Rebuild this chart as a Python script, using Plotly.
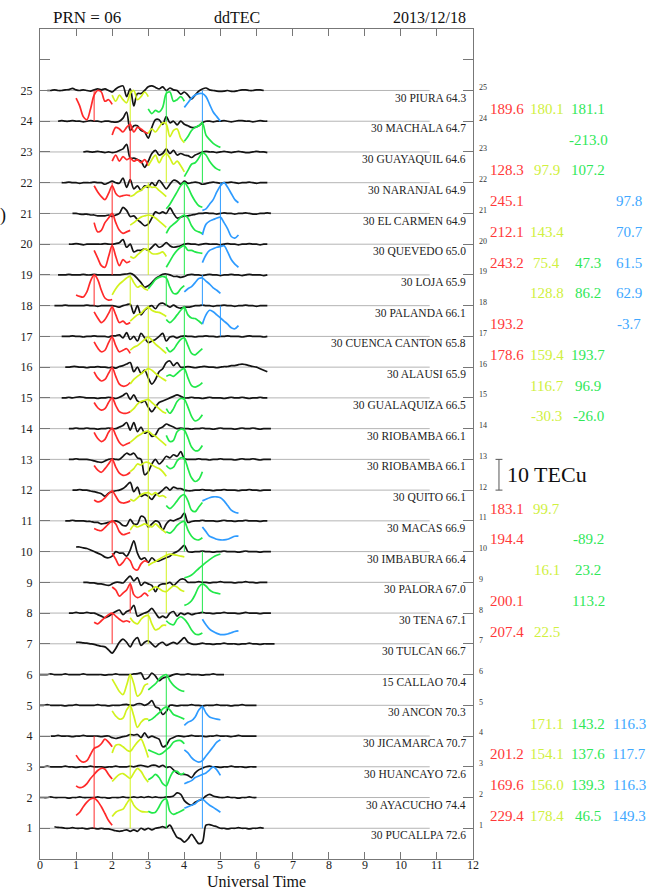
import plotly.graph_objects as go

# ---------------------------------------------------------------------------
# Stations, top (row 25) to bottom (row 1)
# ---------------------------------------------------------------------------
rows = list(range(25, 0, -1))
station_names = ["PIURA", "MACHALA", "GUAYAQUIL", "NARANJAL", "EL CARMEN",
                 "QUEVEDO", "LOJA", "PALANDA", "CUENCA CANTON", "ALAUSI",
                 "GUALAQUIZA", "RIOBAMBA", "RIOBAMBA", "QUITO", "MACAS",
                 "IMBABURA", "PALORA", "TENA", "TULCAN", "CALLAO", "ANCON",
                 "JICAMARCA", "HUANCAYO", "AYACUCHO", "PUCALLPA"]
station_rate = [30, 30, 30, 30, 30, 30, 30, 30, 30, 30, 30, 30, 30, 30, 30,
                30, 30, 30, 30, 15, 30, 30, 30, 30, 30]
station_elev = [64.3, 64.7, 64.6, 64.9, 64.9, 65.0, 65.9, 66.1, 65.8, 65.9,
                66.5, 66.1, 66.1, 66.1, 66.9, 66.4, 67.0, 67.1, 66.7, 70.4,
                70.3, 70.7, 72.6, 74.4, 72.6]

# ---------------------------------------------------------------------------
# ddTEC series (units of 10 TECu), sampled every 0.1 h from the start time
# ---------------------------------------------------------------------------
STEP = 0.1
trace_start = [0.2, 0.5, 1.2, 0.6, 0.9, 0.8, 0.5, 0.4, 0.6, 0.7, 0.6, 0.8, 0.8,
               0.9, 0.7, 1.0, 1.2, 0.8, 1.0, 0.0, 0.0, 0.3, 0.0, 0.0, 0.4]

ddtec_piura = [0, 0, 0.02, 0, 0, 0.02, 0.03, 0.07, 0.02, 0, 0.02, 0, -0.02, 0.02,
               0.05, 0.02, 0.05, 0, -0.05, 0.05, 0.12, 0.15, -0.2, 0.05, -0.5, -0.1,
               -0.1, 0, 0.12, 0.15, 0.1, 0.05, 0.12, 0, 0.08, 0.02, 0, -0.12, -0.05,
               -0.15, -0.28, -0.15, -0.02, 0.05, 0.08, 0.02, 0, -0.02, -0.03, -0.02,
               0, -0.03, -0.03, 0, 0.02, 0.02, 0, 0, 0.02, 0.02, 0]
ddtec_machala = [0, 0.02, 0, 0, 0.02, 0, 0, -0.02, 0, 0.02, 0, 0, -0.02, 0, 0,
                 -0.02, -0.03, 0, 0.1, 0.3, -0.3, -0.15, -0.15, -0.3, -0.35, -0.55,
                 -0.2, 0.05, 0.05, -0.1, 0.15, -0.05, 0, -0.12, 0, -0.1, -0.15, -0.2,
                 -0.2, -0.15, -0.05, 0, 0, -0.02, 0, 0, 0.02, 0, -0.02, 0, 0.02, 0.02,
                 0, 0, -0.02, 0, 0.02, 0, 0]
ddtec_guayaquil = [0, 0.02, 0, 0, 0.02, 0, -0.02, 0, -0.02, 0, 0.05, 0.1, 0.25,
                   -0.2, -0.2, -0.25, -0.3, -0.5, -0.3, -0.05, 0.05, -0.1, -0.05,
                   0.1, -0.05, 0.05, -0.1, -0.05, -0.1, -0.12, -0.18, -0.1, -0.05, 0,
                   0.02, 0, 0, -0.02, 0, 0.02, 0, -0.02, 0, 0.02, 0, -0.02, -0.02, 0,
                   0.02, 0, 0, -0.02]
ddtec_naranjal = [0, 0, 0.02, 0, 0, -0.02, 0, 0, 0, 0.02, 0, 0, -0.05, 0, 0.05, 0,
                  -0.02, 0.15, -0.15, 0.1, -0.2, -0.1, -0.25, -0.1, -0.15, 0, -0.1,
                  0.08, -0.05, -0.2, -0.05, 0.08, 0.05, -0.05, 0.05, -0.02, 0, 0.02, 0,
                  -0.05, -0.03, 0, 0.02, 0, -0.02, 0, 0, 0.02, 0, -0.02, 0, 0, 0.02, 0,
                  -0.02, 0, 0, 0]
ddtec_el_carmen = [0, 0, -0.02, -0.03, -0.02, -0.05, -0.05, -0.08, -0.08, -0.08,
                   -0.05, -0.1, -0.05, 0, 0.2, 0.1, -0.1, -0.08, -0.2, -0.3, -0.4,
                   -0.35, -0.15, 0.05, 0, 0.05, 0, 0.18, 0, -0.15, -0.12, -0.08, -0.08,
                   -0.05, -0.03, 0, 0, 0.02, 0, 0, -0.02, 0, 0.02, 0, 0, -0.02, 0, 0,
                   0.02, 0, -0.02, -0.02, 0, 0, 0.02, 0]
ddtec_quevedo = [0, 0, 0.02, 0, -0.02, 0, 0, 0, 0, 0, 0.02, 0, 0, 0.02, 0.05, 0.15,
                 -0.1, 0, -0.25, -0.2, -0.2, -0.15, -0.2, -0.1, 0, -0.1, -0.05, 0.05,
                 -0.05, -0.1, -0.08, -0.05, 0, 0.02, 0, 0, -0.02, 0, 0.02, 0, 0, 0,
                 -0.02, 0, 0.02, 0, 0, -0.02, 0, 0, 0.02, 0, 0, -0.02, 0, 0]
ddtec_loja = [0, 0, 0, 0.02, 0, 0, 0, 0.02, 0, 0, 0.02, 0, 0, 0, 0, 0, 0, 0, 0.02,
              0.03, 0.05, 0, -0.12, -0.25, -0.4, -0.35, -0.25, -0.12, -0.05, 0.02,
              0.03, 0, -0.05, -0.05, -0.08, -0.05, 0, 0.02, 0, 0, -0.02, 0, 0.02, 0,
              0, -0.02, 0, 0, 0.02, 0, 0, -0.02, 0, 0.02, 0, 0, 0, -0.02, 0]
ddtec_palanda = [0, 0, 0, 0.02, 0, 0, 0, 0, 0, 0.02, 0, 0, -0.02, 0, 0, 0, 0, -0.02,
                 -0.05, 0, 0.03, 0.05, -0.25, 0, -0.3, -0.15, -0.05, 0, -0.1, 0.05,
                 0.08, 0.02, -0.05, 0.02, -0.05, -0.08, -0.05, -0.05, -0.03, 0, 0,
                 0.02, 0, 0, -0.02, 0, 0, 0.02, 0, 0, -0.02, 0, 0, 0.02, 0, 0, -0.02,
                 0, 0, 0]
ddtec_cuenca = [0, 0, 0, 0.02, 0, 0, -0.02, 0, 0, 0.02, 0, 0, 0, -0.02, 0.02, 0.02,
                0.05, -0.05, 0.12, -0.1, 0, -0.15, 0.1, -0.05, -0.2, -0.15, -0.1, 0,
                0.1, -0.15, -0.02, 0, -0.05, 0, 0.02, 0, 0, -0.02, 0, 0, 0.02, 0, 0,
                -0.02, 0, 0, 0.02, 0, 0, 0, -0.02, 0, 0.02, 0, 0, 0, -0.02, 0]
ddtec_alausi = [0, 0, 0.02, 0.02, 0, 0, -0.02, 0, 0, 0.02, 0, 0, -0.02, 0, -0.03,
                0.02, 0.05, 0.1, 0.15, -0.15, 0, -0.2, -0.1, -0.35, -0.55, -0.4,
                -0.15, -0.05, 0.15, 0.2, 0.05, 0.15, 0, 0, 0.02, 0, -0.02, 0, 0.02,
                0.02, 0, 0, -0.02, 0, 0.02, 0.02, 0.05, 0.05, 0.08, 0.1, 0.08, 0.05,
                0.02, 0, -0.05, -0.1, -0.15]
ddtec_gualaquiza = [0, 0, 0.02, 0, 0.02, 0.03, 0.02, 0, 0, 0, -0.02, 0, 0, 0.02, 0,
                    -0.02, 0.02, 0.08, 0.15, -0.05, 0.1, -0.1, -0.15, -0.1, -0.3,
                    -0.45, -0.3, -0.15, -0.1, -0.05, 0, 0.05, 0.1, 0.05, 0, 0, 0.02, 0,
                    0, -0.02, 0, 0.02, 0, 0, 0, -0.02, 0, 0.02, 0, 0, 0.02, 0, -0.02, 0,
                    0, 0.02, 0, 0]
ddtec_riobamba_a = [0, 0, 0.02, 0, 0, 0.02, 0, 0, -0.02, 0, 0, 0.02, 0, 0, 0.05,
                    0.1, 0.2, -0.05, 0.2, -0.1, 0.05, -0.15, -0.1, -0.25, -0.2, 0,
                    0.05, 0.15, 0.1, 0.05, 0, 0.02, 0, 0, -0.02, 0, 0, 0.02, 0, 0,
                    -0.02, 0, 0.02, 0, 0, 0, -0.02, 0, 0.02, 0, 0, 0.02, 0, -0.02, 0,
                    0, 0]
ddtec_riobamba_b = [0, 0, 0.02, 0, 0, 0, -0.02, -0.05, -0.08, -0.1, -0.05, 0, 0.02,
                    0, 0, 0.1, 0.2, 0.15, 0.2, 0.05, 0, -0.5, -0.4, -0.15, 0, -0.15,
                    -0.05, 0.1, 0.05, 0.15, 0.1, 0.25, 0.02, 0, 0, 0, 0.02, 0, 0,
                    -0.02, 0, 0, 0.02, 0, 0, 0, -0.02, 0, 0.02, 0, 0, 0.02, 0, -0.02,
                    0, 0, 0]
ddtec_quito = [0, 0, 0.02, 0, 0, -0.03, -0.05, -0.08, -0.12, -0.2, -0.1, -0.05,
               -0.02, 0, 0.05, 0.15, 0.25, -0.05, 0.1, -0.2, -0.15, -0.2, -0.3, -0.15,
               -0.1, 0, 0.1, 0, 0.1, 0.05, 0.05, 0, -0.02, -0.02, 0, 0, 0.02, 0, 0,
               -0.02, 0, 0, 0.02, 0, 0, 0, -0.02, 0, 0, 0.02, 0, 0, -0.02, 0, 0, 0]
ddtec_macas = [0, 0, 0.02, 0, 0, 0, -0.02, -0.02, -0.05, -0.05, -0.1, -0.08, -0.05,
               -0.02, 0, -0.05, -0.15, -0.15, 0.05, -0.1, -0.1, 0.15, 0.1, -0.2, -0.1,
               0, -0.05, -0.3, -0.1, 0.02, 0, 0.05, 0.1, 0.25, -0.05, -0.02, 0, 0,
               0.02, 0, 0, 0, -0.02, 0, 0.02, 0, 0, -0.02, 0, 0, 0.02, 0, 0, 0, -0.02,
               0, 0]
ddtec_imbabura = [0.15, 0.15, 0.12, 0.1, 0.05, 0, -0.05, -0.1, -0.18, -0.2, -0.15,
                  0, -0.05, -0.05, -0.15, 0.05, 0.35, -0.05, -0.25, -0.2, -0.35, -0.2,
                  -0.3, -0.3, -0.25, -0.2, -0.15, -0.05, 0, 0.1, 0.2, 0, -0.02, 0, 0,
                  0.02, 0, 0, -0.02, 0, 0, 0.02, 0, 0, 0, -0.02, 0, 0.02, 0, 0, 0,
                  -0.02, 0, 0, 0]
ddtec_palora = [0, 0, -0.02, -0.02, -0.05, -0.05, -0.08, -0.1, -0.05, 0, 0, -0.02,
                0.1, 0.2, 0.05, 0.15, -0.1, 0, -0.05, -0.1, -0.3, -0.1, -0.05, -0.05,
                0, -0.1, 0, 0.1, 0.1, 0, 0, 0, 0.02, 0, 0, -0.02, 0, 0, 0.02, 0, 0, 0,
                -0.02, 0, 0, 0.02, 0, 0, -0.02, 0, 0, 0]
ddtec_tena = [0, 0, 0.02, 0, 0, 0.02, 0, 0, -0.05, -0.1, -0.15, -0.1, -0.02, 0.05,
              0.1, -0.05, 0.05, 0.1, 0.25, -0.1, -0.05, 0, 0.05, 0.15, 0, -0.15, -0.1,
              -0.15, 0, 0.05, -0.1, 0, -0.05, 0, -0.05, -0.02, 0, 0.02, 0, 0, -0.02,
              0, 0, 0.02, 0, 0, 0, -0.02, 0, 0.02, 0, 0, 0, -0.02, 0, 0, 0]
ddtec_tulcan = [0.05, 0.05, 0.03, 0.02, 0, -0.02, -0.05, -0.08, -0.1, -0.2, -0.3,
                -0.15, 0.05, 0.15, 0.05, -0.1, 0.1, 0.2, -0.05, 0.05, 0.1, 0, -0.1, 0,
                0.05, -0.05, 0, 0.05, 0, 0.1, 0.2, 0.05, 0, -0.02, 0, 0.02, 0, 0,
                -0.02, 0, 0, 0.02, 0, 0, 0, -0.02, 0, 0, 0.02, 0, 0, -0.02, 0, 0, 0, 0]
ddtec_callao = [0, 0, 0, 0.02, 0, 0, 0, 0.02, 0, 0, 0, 0, 0.02, 0, 0, 0, 0, 0, -0.02,
                0, 0, 0.02, 0, 0, 0, 0, 0.02, 0.03, 0.05, -0.15, -0.1, 0.05, -0.05,
                -0.2, -0.12, -0.08, -0.05, 0, 0.02, 0, 0, 0.02, 0, 0, 0, -0.02, 0, 0,
                0.02, 0, 0, 0]
ddtec_ancon = [0, 0, 0.02, 0, 0, 0, 0, -0.02, 0, 0, 0.02, 0, 0, 0, 0, 0, 0.02, 0, 0,
               -0.02, 0, 0, 0, 0.02, 0.03, 0, 0, 0.05, 0.05, 0, 0.05, 0.15, -0.05,
               -0.1, -0.3, -0.2, 0, 0, -0.02, 0, 0, 0, 0.02, 0, 0, -0.02, 0, 0, 0,
               0.02, 0, 0, 0, -0.02, 0, 0, 0.02, 0, 0, 0, 0]
ddtec_jicamarca = [0, 0, 0.02, 0, 0, 0, -0.02, 0, 0, 0.02, 0, 0, 0, 0, -0.02, 0, 0,
                   -0.05, -0.08, -0.05, -0.02, 0, 0.05, 0.03, 0.05, -0.05, 0.1, -0.05,
                   0, -0.05, -0.1, -0.35, -0.3, -0.1, -0.05, 0, 0, -0.02, 0, 0.02, 0,
                   0, 0, -0.02, 0, 0, 0.02, 0, 0, 0, -0.02, 0, 0.02, 0, 0, 0, 0, 0]
ddtec_huancayo = [0, 0, 0.02, 0, 0, 0, 0, 0.02, 0, 0, -0.02, 0, 0, 0, 0.02, 0, 0, 0,
                  -0.02, 0, 0, 0.02, 0, 0, 0, 0.02, 0, 0.03, 0.05, 0.02, 0, 0.05,
                  0.05, 0, 0.05, -0.02, 0, -0.1, -0.2, -0.25, -0.25, -0.28, -0.35,
                  -0.2, -0.1, -0.05, 0, 0.02, 0, 0, -0.02, 0, 0, 0.02, 0, 0, 0, -0.02,
                  0, 0, 0]
ddtec_ayacucho = [0, 0, 0, 0.02, 0, 0, 0, 0, -0.02, 0, 0, 0.02, 0, 0, 0, 0, 0.02, 0,
                  0, -0.02, 0, 0, 0, 0.02, 0, 0, 0.02, 0, 0.02, 0, 0.03, 0, 0.02, 0,
                  0, 0.02, 0.02, 0.05, 0.15, 0.1, -0.1, -0.2, -0.25, -0.15, -0.1,
                  -0.05, 0.05, 0.1, 0.05, 0.02, 0, 0, 0.02, 0, 0, -0.02, 0, 0, 0.02,
                  0, 0]
ddtec_pucallpa = [0.05, 0.03, 0.02, 0, 0, 0.02, 0, 0, 0, -0.02, 0, 0, -0.02, 0,
                  -0.02, -0.02, -0.05, -0.08, -0.1, -0.08, -0.05, -0.1, -0.05, -0.1, 0,
                  -0.05, 0, -0.05, 0, 0.02, 0.05, 0.02, 0.1, -0.1, -0.3, -0.35, -0.45,
                  -0.35, -0.2, -0.35, -0.5, -0.45, 0.1, 0.12, 0.08, 0.05, 0, 0, -0.02,
                  0, 0, 0.02, 0, 0, -0.02, 0, 0, 0.02, 0]

ddtec_series = [ddtec_piura, ddtec_machala, ddtec_guayaquil, ddtec_naranjal,
                ddtec_el_carmen, ddtec_quevedo, ddtec_loja, ddtec_palanda,
                ddtec_cuenca, ddtec_alausi, ddtec_gualaquiza, ddtec_riobamba_a,
                ddtec_riobamba_b, ddtec_quito, ddtec_macas, ddtec_imbabura,
                ddtec_palora, ddtec_tena, ddtec_tulcan, ddtec_callao, ddtec_ancon,
                ddtec_jicamarca, ddtec_huancayo, ddtec_ayacucho, ddtec_pucallpa]

# ---------------------------------------------------------------------------
# One-hour windows (11 samples, centre +/- 0.5 h), one list entry per station
# centre = None: no window; mark = 1: vertical marker at the window centre
# ---------------------------------------------------------------------------
red_center = [1.5, 2.5, 2.5, 2.0, 2.0, 2.0, 1.5, 2.0, 2.0, 2.0, 2.0, 2.0, 2.0,
              2.0, 2.0, 2.5, 2.5, 2.0, None, None, None, 1.5, 1.5, 1.5, None]
red_mark = [1, 1, 1, 1, 1, 1, 1, 1, 1, 1, 1, 1, 1, 1, 1, 0, 1, 1, 0, 0, 0, 1, 1, 1, 0]
red_window = [
    [-0.25, -0.5, -0.85, -0.95, -0.6, -0.15, 0.0, -0.05, -0.35, -0.3, -0.45],
    [-0.45, -0.2, -0.25, -0.35, -0.2, -0.1, -0.35, -0.2, -0.25, -0.35, -0.4],
    [-0.3, -0.1, -0.3, -0.15, -0.25, -0.2, -0.3, -0.25, -0.35, -0.25, -0.45],
    [-0.1, -0.3, -0.45, -0.55, -0.35, -0.1, -0.35, -0.45, -0.42, -0.4, -0.42],
    [-0.3, -0.6, -0.55, -0.3, -0.15, 0.0, -0.3, -0.55, -0.65, -0.6, -0.55],
    [-0.2, -0.45, -0.7, -0.75, -0.4, -0.05, -0.4, -0.7, -0.5, -0.6, -0.55],
    [-0.65, -0.7, -0.72, -0.55, -0.2, 0.0, -0.15, -0.5, -0.75, -0.82, -0.8],
    [-0.2, -0.4, -0.55, -0.45, -0.25, -0.05, -0.3, -0.55, -0.5, -0.6, -0.55],
    [-0.18, -0.38, -0.5, -0.45, -0.2, -0.02, -0.3, -0.5, -0.45, -0.4, -0.55],
    [-0.15, -0.35, -0.45, -0.4, -0.2, -0.02, -0.3, -0.55, -0.62, -0.6, -0.5],
    [-0.15, -0.32, -0.4, -0.35, -0.15, 0.0, -0.25, -0.45, -0.5, -0.5, -0.45],
    [-0.12, -0.32, -0.42, -0.35, -0.12, 0.02, -0.22, -0.45, -0.55, -0.5, -0.45],
    [-0.2, -0.35, -0.42, -0.3, -0.15, 0.0, -0.25, -0.45, -0.52, -0.5, -0.42],
    [-0.32, -0.38, -0.35, -0.25, -0.12, -0.03, -0.2, -0.38, -0.42, -0.4, -0.35],
    [-0.25, -0.3, -0.32, -0.22, -0.1, 0.0, -0.1, -0.35, -0.45, -0.42, -0.38],
    [-0.05, -0.25, -0.45, -0.35, -0.2, -0.3, -0.55, -0.6, -0.4, -0.3, -0.35],
    [-0.15, -0.25, -0.45, -0.35, -0.25, -0.05, -0.4, -0.5, -0.45, -0.35, -0.45],
    [-0.3, -0.35, -0.25, -0.15, -0.05, 0.0, -0.1, -0.2, -0.28, -0.25, -0.3],
    None, None, None,
    [-0.62, -0.78, -0.85, -0.8, -0.6, -0.4, -0.35, -0.25, -0.1, -0.2, -0.35],
    [-0.62, -0.68, -0.65, -0.55, -0.38, -0.25, -0.12, -0.05, -0.08, -0.25, -0.4],
    [-0.58, -0.48, -0.3, -0.15, -0.05, -0.02, -0.12, -0.3, -0.52, -0.75, -0.9],
    None]

yellow_center = [2.5, 3.5, 3.5, 3.0, 3.0, 3.0, 2.5, 3.0, 3.0, 3.0, 3.0, 3.0, 3.0,
                 3.0, 3.0, 3.5, 3.5, 3.0, None, 2.5, 2.5, 2.5, 2.5, 2.5, None]
yellow_mark = [1, 1, 1, 1, 1, 1, 1, 1, 1, 1, 1, 1, 1, 1, 1, 1, 1, 1, 0, 1, 1, 1, 1, 1, 0]
yellow_window = [
    [-0.15, -0.35, -0.15, -0.3, -0.4, -0.1, 0.0, -0.3, -0.2, -0.05, -0.2],
    [-0.4, -0.25, -0.35, -0.2, -0.05, -0.1, -0.5, -0.3, -0.25, -0.55, -0.7],
    [-0.45, -0.25, -0.1, -0.35, -0.15, -0.05, -0.2, -0.4, -0.3, -0.45, -0.65],
    [-0.45, -0.4, -0.3, -0.25, -0.15, -0.1, -0.15, -0.15, -0.25, -0.35, -0.45],
    [-0.38, -0.3, -0.2, -0.12, -0.08, -0.05, -0.08, -0.15, -0.25, -0.35, -0.45],
    [-0.4, -0.45, -0.35, -0.25, -0.15, -0.2, -0.3, -0.32, -0.3, -0.25, -0.4],
    [-0.65, -0.45, -0.3, -0.2, -0.1, -0.05, -0.25, -0.4, -0.35, -0.45, -0.5],
    [-0.5, -0.4, -0.3, -0.25, -0.12, -0.05, -0.15, -0.2, -0.22, -0.28, -0.35],
    [-0.45, -0.35, -0.3, -0.2, -0.1, -0.02, -0.12, -0.25, -0.35, -0.45, -0.55],
    [-0.55, -0.4, -0.3, -0.22, -0.12, -0.05, -0.1, -0.2, -0.3, -0.38, -0.45],
    [-0.45, -0.35, -0.2, -0.12, -0.08, -0.05, -0.15, -0.25, -0.35, -0.45, -0.5],
    [-0.45, -0.35, -0.25, -0.18, -0.1, -0.08, -0.18, -0.25, -0.35, -0.45, -0.55],
    [-0.4, -0.3, -0.15, -0.18, -0.1, -0.1, -0.18, -0.25, -0.3, -0.4, -0.55],
    [-0.3, -0.35, -0.25, -0.15, -0.1, -0.08, -0.15, -0.08, -0.2, -0.18, -0.25],
    [-0.3, -0.15, -0.2, -0.15, -0.1, -0.15, -0.2, -0.1, -0.2, -0.3, -0.4],
    [-0.45, -0.38, -0.32, -0.25, -0.18, -0.12, -0.08, -0.1, -0.12, -0.15, -0.17],
    [-0.3, -0.22, -0.15, -0.2, -0.28, -0.3, -0.2, -0.12, -0.15, -0.25, -0.3],
    [-0.15, -0.3, -0.35, -0.2, -0.1, -0.08, -0.35, -0.55, -0.5, -0.4, -0.4],
    None,
    [-0.15, -0.35, -0.55, -0.65, -0.35, 0.0, -0.3, -0.7, -0.6, -0.35, -0.3],
    [-0.18, -0.35, -0.45, -0.42, -0.15, -0.02, -0.35, -0.72, -0.55, -0.45, -0.45],
    [-0.55, -0.3, -0.28, -0.35, -0.45, -0.5, -0.35, -0.2, -0.1, -0.35, -0.7],
    [-0.48, -0.35, -0.25, -0.22, -0.3, -0.38, -0.2, -0.05, -0.15, -0.35, -0.5],
    [-0.62, -0.48, -0.42, -0.38, -0.2, -0.05, -0.25, -0.38, -0.45, -0.47, -0.47],
    None]

green_center = [3.5, 4.5, 4.5, 4.0, 4.0, 4.0, 3.5, 4.0, 4.0, 4.0, 4.0, 4.0, 4.0,
                4.0, 4.0, 4.5, 4.5, 4.0, None, 3.5, 3.5, 3.5, 3.5, 3.5, None]
green_mark = [1, 1, 1, 1, 1, 1, 1, 1, 1, 1, 1, 1, 1, 1, 1, 1, 1, 0, 0, 1, 1, 1, 1, 1, 0]
green_window = [
    [-0.6, -0.75, -0.65, -0.7, -0.55, -0.1, -0.05, -0.35, -0.3, -0.2, -0.35],
    [-0.65, -0.5, -0.3, -0.2, -0.15, -0.05, -0.45, -0.6, -0.72, -0.8, -0.85],
    [-0.8, -0.6, -0.4, -0.35, -0.2, -0.02, -0.1, -0.3, -0.45, -0.55, -0.6],
    [-0.85, -0.7, -0.5, -0.3, -0.1, 0.0, -0.15, -0.4, -0.6, -0.75, -0.8],
    [-0.65, -0.45, -0.35, -0.25, -0.12, -0.05, -0.15, -0.4, -0.55, -0.6, -0.65],
    [-0.75, -0.55, -0.35, -0.2, -0.1, -0.05, -0.2, -0.2, -0.25, -0.28, -0.3],
    [-0.45, -0.3, -0.15, -0.08, -0.05, -0.1, -0.4, -0.6, -0.6, -0.45, -0.35],
    [-0.45, -0.55, -0.45, -0.3, -0.15, -0.05, -0.3, -0.4, -0.42, -0.5, -0.6],
    [-0.35, -0.5, -0.42, -0.25, -0.1, -0.05, -0.3, -0.55, -0.6, -0.5, -0.4],
    [-0.3, -0.25, -0.3, -0.2, -0.1, -0.05, -0.35, -0.6, -0.65, -0.6, -0.5],
    [-0.35, -0.5, -0.35, -0.12, -0.02, -0.05, -0.3, -0.6, -0.75, -0.7, -0.55],
    [-0.22, -0.42, -0.38, -0.1, -0.02, -0.05, -0.3, -0.6, -0.72, -0.7, -0.55],
    [-0.2, -0.3, -0.25, -0.05, 0.05, 0.02, -0.3, -0.6, -0.72, -0.65, -0.4],
    [-0.5, -0.6, -0.5, -0.35, -0.2, -0.15, -0.35, -0.65, -0.7, -0.55, -0.4],
    [-0.35, -0.4, -0.3, -0.15, -0.05, -0.02, -0.3, -0.5, -0.6, -0.62, -0.55],
    [-0.85, -0.82, -0.76, -0.66, -0.55, -0.45, -0.35, -0.26, -0.18, -0.12, -0.08],
    [-0.75, -0.7, -0.6, -0.4, -0.15, -0.05, -0.12, -0.25, -0.32, -0.35, -0.38],
    [-0.25, -0.35, -0.38, -0.2, -0.12, -0.2, -0.35, -0.55, -0.68, -0.7, -0.65],
    None,
    [-0.5, -0.4, -0.3, -0.15, -0.05, 0.0, -0.2, -0.35, -0.45, -0.52, -0.55],
    [-0.5, -0.45, -0.35, -0.25, -0.12, -0.05, -0.15, -0.3, -0.35, -0.4, -0.45],
    [-0.45, -0.5, -0.55, -0.6, -0.55, -0.45, -0.35, -0.2, -0.15, -0.15, -0.25],
    [-0.42, -0.35, -0.25, -0.35, -0.55, -0.62, -0.35, -0.15, -0.15, -0.25, -0.2],
    [-0.45, -0.5, -0.48, -0.3, -0.1, -0.05, -0.45, -0.55, -0.5, -0.45, -0.38],
    None]

blue_center = [4.5, None, None, 5.0, 5.0, 5.0, 4.5, 5.0, None, None, None, None,
               None, 5.0, 5.0, None, None, 5.0, None, None, 4.5, 4.5, 4.5, 4.5, None]
blue_mark = [1, 0, 0, 1, 1, 1, 1, 1, 0, 0, 0, 0, 0, 0, 0, 0, 0, 0, 0, 0, 1, 1, 1, 1, 0]
blue_window = [
    [-0.55, -0.4, -0.25, -0.15, -0.1, -0.1, -0.2, -0.45, -0.7, -0.85, -1.0],
    None, None,
    [-0.9, -0.85, -0.7, -0.55, -0.3, -0.1, 0.0, -0.15, -0.35, -0.55, -0.65],
    [-0.7, -0.35, -0.25, -0.2, -0.15, -0.12, -0.3, -0.5, -0.75, -0.8, -0.7],
    [-0.6, -0.35, -0.2, -0.15, -0.1, -0.08, -0.05, -0.25, -0.5, -0.65, -0.75],
    [-0.55, -0.45, -0.38, -0.25, -0.12, -0.1, -0.2, -0.3, -0.42, -0.5, -0.6],
    [-0.6, -0.3, -0.15, -0.2, -0.3, -0.4, -0.5, -0.6, -0.72, -0.75, -0.65],
    None, None, None, None, None,
    [-0.35, -0.3, -0.25, -0.22, -0.22, -0.25, -0.35, -0.5, -0.65, -0.72, -0.75],
    [-0.2, -0.35, -0.5, -0.55, -0.6, -0.62, -0.62, -0.6, -0.55, -0.5, -0.5],
    None, None,
    [-0.2, -0.38, -0.52, -0.6, -0.66, -0.7, -0.7, -0.68, -0.64, -0.6, -0.58],
    None, None,
    [-0.65, -0.55, -0.5, -0.38, -0.15, -0.05, -0.25, -0.38, -0.42, -0.45, -0.47],
    [-0.45, -0.55, -0.7, -0.8, -0.85, -0.8, -0.65, -0.5, -0.35, -0.2, -0.12],
    [-0.55, -0.5, -0.45, -0.35, -0.3, -0.25, -0.2, -0.1, 0.0, -0.1, -0.28],
    [-0.35, -0.3, -0.25, -0.2, -0.1, -0.05, -0.15, -0.25, -0.32, -0.4, -0.48],
    None]

# Apparent velocities printed to the right of each station (m/s)
speed_red = [189.6, None, 128.3, 245.1, 212.1, 243.2, None, 193.2, 178.6, None,
             None, None, None, 183.1, 194.4, None, 200.1, 207.4, None, None, None,
             201.2, 169.6, 229.4, None]
speed_yellow = [180.1, None, 97.9, None, 143.4, 75.4, 128.8, None, 159.4, 116.7,
                -30.3, None, None, 99.7, None, 16.1, None, 22.5, None, None, 171.1,
                154.1, 156.0, 178.4, None]
speed_green = [181.1, -213.0, 107.2, None, None, 47.3, 86.2, None, 193.7, 96.9,
               -26.0, None, None, None, -89.2, 23.2, 113.2, None, None, None, 143.2,
               137.6, 139.3, 46.5, None]
speed_blue = [None, None, None, 97.8, 70.7, 61.5, 62.9, -3.7, None, None, None,
              None, None, None, None, None, None, None, None, None, 116.3, 117.7,
              116.3, 149.3, None]

x_ticks = list(range(0, 13))

# ---------------------------------------------------------------------------
SERIF = "Liberation Serif"
COLORS = {"red": "#ff2a2a", "yellow": "#d2f21e", "green": "#22e84a", "blue": "#2e9bff"}
TEXT_COLORS = {"red": "#ff3838", "yellow": "#d0f040", "green": "#30e858", "blue": "#40a8ff"}

PLOT_TOP, PLOT_H = 29, 830           # plot area position in pixels
def px_to_paper(py):
    return (PLOT_TOP + PLOT_H - py) / PLOT_H

fig = go.Figure()
shapes = []
annotations = []

# light reference line for every station row
for r in rows:
    shapes.append(dict(type="line", xref="x", yref="y", x0=0, x1=10.8, y0=r, y1=r,
                       line=dict(color="#b4b4b4", width=1), layer="below"))

# ddTEC traces
for r, t0, vals in zip(rows, trace_start, ddtec_series):
    xs = [round(t0 + STEP * j, 3) for j in range(len(vals))]
    ys = [r + v for v in vals]
    fig.add_trace(go.Scatter(x=xs, y=ys, mode="lines", hoverinfo="skip",
                             showlegend=False,
                             line=dict(color="#141414", width=1.7, shape="spline",
                                       smoothing=0.9)))

# coloured windows with their markers
window_sets = [("red", red_center, red_mark, red_window),
               ("yellow", yellow_center, yellow_mark, yellow_window),
               ("green", green_center, green_mark, green_window),
               ("blue", blue_center, blue_mark, blue_window)]
for name, centers, marks, windows in window_sets:
    col = COLORS[name]
    for r, tc, mk, vals in zip(rows, centers, marks, windows):
        if tc is None or vals is None:
            continue
        xs = [round(tc - 0.5 + STEP * j, 3) for j in range(len(vals))]
        ys = [r + v for v in vals]
        fig.add_trace(go.Scatter(x=xs, y=ys, mode="lines", hoverinfo="skip",
                                 showlegend=False,
                                 line=dict(color=col, width=1.7, shape="spline",
                                           smoothing=0.9)))
        if mk:
            fig.add_trace(go.Scatter(x=[tc, tc], y=[r, r - 1], mode="lines",
                                     hoverinfo="skip", showlegend=False,
                                     line=dict(color=col, width=1)))

# station labels inside the frame and small row numbers outside it
for r, rate, name, elev in zip(rows, station_rate, station_names, station_elev):
    annotations.append(dict(x=11.86, y=r - 0.23, xref="x", yref="y",
                            text=f"{rate} {name} {elev:.1f}", showarrow=False,
                            xanchor="right", yanchor="middle",
                            font=dict(family=SERIF, size=11.5, color="#222")))
    annotations.append(dict(x=1.0, y=r + 0.1, xref="paper", yref="y", text=str(r),
                            showarrow=False, xanchor="left", yanchor="middle",
                            xshift=4, font=dict(family=SERIF, size=8, color="#333")))

# hour labels under the time axis
for t in x_ticks:
    annotations.append(dict(x=t, y=px_to_paper(864.5), xref="x", yref="paper",
                            text=str(t), showarrow=False, xanchor="center",
                            yanchor="middle", borderpad=0,
                            font=dict(family=SERIF, size=12, color="#222")))

# velocity columns
speed_cols = [("red", speed_red, 1.0785), ("yellow", speed_yellow, 1.1709),
              ("green", speed_green, 1.2656), ("blue", speed_blue, 1.3603)]
for name, speeds, px in speed_cols:
    for r, s in zip(rows, speeds):
        if s is None:
            continue
        annotations.append(dict(x=px, y=r - 0.6, xref="paper", yref="y",
                                text=f"{s:.1f}", showarrow=False, xanchor="center",
                                yanchor="middle",
                                font=dict(family=SERIF, size=15,
                                          color=TEXT_COLORS[name])))

# 10 TECu scale bar (one row spacing)
bar_x = 1.06
shapes.append(dict(type="line", xref="paper", yref="y", x0=bar_x, x1=bar_x,
                   y0=12, y1=13, line=dict(color="#555", width=1)))
for yb in (12, 13):
    shapes.append(dict(type="line", xref="paper", yref="y", x0=bar_x - 0.008,
                       x1=bar_x + 0.008, y0=yb, y1=yb, line=dict(color="#555", width=1)))
annotations.append(dict(x=1.0739, y=12.5, xref="paper", yref="y", text="10 TECu",
                        showarrow=False, xanchor="left", yanchor="middle",
                        font=dict(family=SERIF, size=22, color="#111")))

# header and axis captions
annotations += [
    dict(x=0.1085, y=1.0139, xref="paper", yref="paper", text="PRN = 06",
         showarrow=False, xanchor="center", yanchor="middle",
         font=dict(family=SERIF, size=17, color="#111")),
    dict(x=0.455, y=1.0139, xref="paper", yref="paper", text="ddTEC",
         showarrow=False, xanchor="center", yanchor="middle",
         font=dict(family=SERIF, size=16, color="#111")),
    dict(x=0.988, y=1.0139, xref="paper", yref="paper", text="2013/12/18",
         showarrow=False, xanchor="right", yanchor="middle",
         font=dict(family=SERIF, size=16, color="#111")),
    dict(x=0.499, y=px_to_paper(891), xref="paper", yref="paper",
         text="Universal Time", showarrow=False, xanchor="center",
         yanchor="bottom", borderpad=0,
         font=dict(family=SERIF, size=16, color="#111")),
    dict(x=-0.085, y=0.775, xref="paper", yref="paper", text=")",
         showarrow=False, xanchor="center", yanchor="middle",
         font=dict(family=SERIF, size=18, color="#111")),
]

fig.update_layout(
    width=648, height=889,
    margin=dict(l=40, r=175, t=PLOT_TOP, b=889 - PLOT_TOP - PLOT_H),
    paper_bgcolor="white", plot_bgcolor="white",
    shapes=shapes, annotations=annotations,
    showlegend=False,
    xaxis=dict(range=[0, 12], tickvals=x_ticks, showticklabels=False,
               ticks="inside", ticklen=7, tickcolor="#777", showline=True,
               linecolor="#777", linewidth=1, mirror="ticks", showgrid=False,
               zeroline=False),
    yaxis=dict(range=[0, 27], tickvals=list(range(1, 27)),
               ticktext=[str(v) for v in range(1, 26)] + [""],
               ticks="inside", ticklen=10, tickcolor="#777", showline=True,
               linecolor="#777", linewidth=1, mirror="ticks", showgrid=False,
               zeroline=False, ticklabelstandoff=4,
               tickfont=dict(family=SERIF, size=12, color="#222")),
)

fig.write_html("out.html")
